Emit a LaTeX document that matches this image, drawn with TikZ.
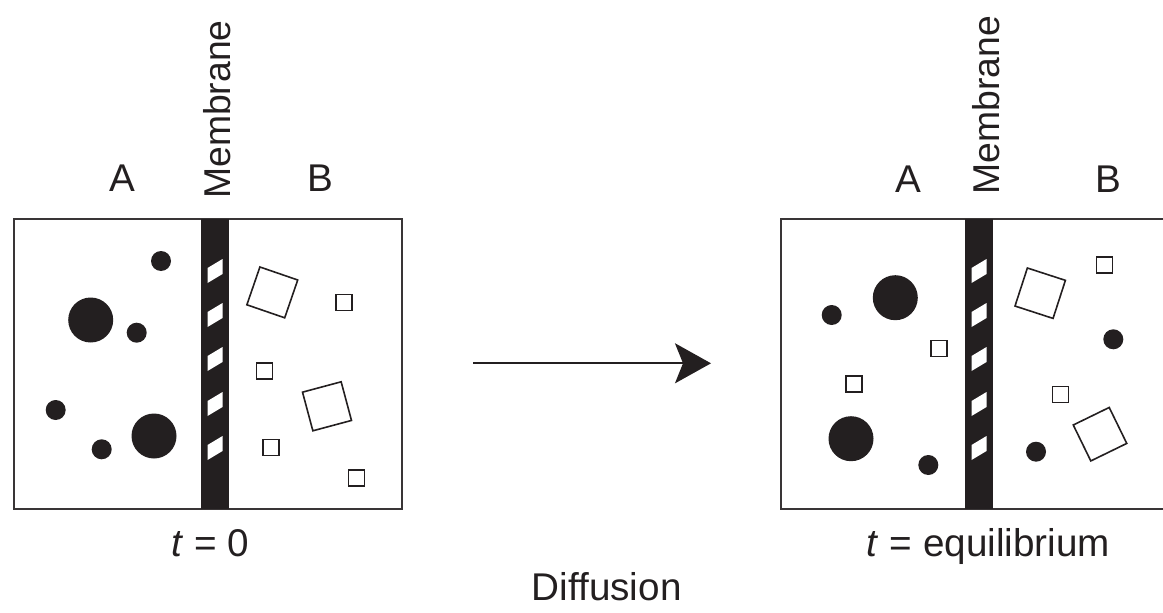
\documentclass[tikz,border=0pt]{standalone}
\usepackage{fontspec}
\setmainfont{Liberation Sans}
\usetikzlibrary{arrows.meta}
\definecolor{ink}{RGB}{35,31,32}
\begin{document}
\begin{tikzpicture}[x=0.75pt,y=-0.75pt,
  frame/.style={draw=ink!90, line width=1.5pt},
  wall/.style={fill=ink},
  slit/.style={fill=white},
  bigball/.style={circle, fill=ink, inner sep=0pt, minimum size=33.75pt},
  ball/.style={circle, fill=ink, inner sep=0pt, minimum size=15pt},
  bigcube/.style={rectangle, draw=ink, line width=1.2pt, inner sep=0pt, minimum size=30pt},
  cube/.style={rectangle, draw=ink, line width=1.2pt, inner sep=0pt, minimum size=12pt},
  lbl/.style={font=\fontsize{29}{35}\selectfont, text=ink, inner sep=0pt},
  vlbl/.style={font=\fontsize{28}{34}\selectfont, text=ink, inner sep=0pt, rotate=90, anchor=base west},
]
\useasboundingbox (0,0) rectangle (1163,613);

% ---------- left chamber, t = 0 ----------
\draw[frame] (13.5,218.5) rectangle (401.5,509);
\fill[wall] (201,218.5) rectangle (229,509);
\foreach \c in {271,315,359,404,448}
  \fill[slit] (207.5,\c-3) -- (222.5,\c-12) -- (222.5,\c+3) -- (207.5,\c+12) -- cycle;

\node[bigball] (la1) at (90.7,320) {};
\node[bigball] (la2) at (154,436) {};
\node[ball] (la3) at (161,261) {};
\node[ball] (la4) at (136.7,332.7) {};
\node[ball] (la5) at (55.7,410) {};
\node[ball] (la6) at (101.7,449.3) {};

\node[bigcube, rotate=-19] (lb1) at (272.3,292.4) {};
\node[bigcube, rotate=15] (lb2) at (327,406.3) {};
\node[cube] (lb3) at (343.7,302.3) {};
\node[cube] (lb4) at (264.5,370.7) {};
\node[cube] (lb5) at (270.8,447.5) {};
\node[cube] (lb6) at (356.3,478) {};

\node[lbl, anchor=base] (lA) at (122,191.7) {A};
\node[lbl, anchor=base] (lB) at (320,191.5) {B};
\node[vlbl] (lM) at (230,199) {Membrane};
\node[lbl, anchor=base] (lt) at (210,556.7) {\textit{t} = 0};

% ---------- right chamber, equilibrium ----------
\draw[frame] (1163,218.5) -- (781,218.5) -- (781,509) -- (1163,509);
\fill[wall] (964.5,218.5) rectangle (993,509);
\foreach \c in {271,315,359,404,448}
  \fill[slit] (971.5,\c-3) -- (986.5,\c-12) -- (986.5,\c+3) -- (971.5,\c+12) -- cycle;

\node[bigball] (ra1) at (895.3,297.7) {};
\node[bigball] (ra2) at (851,438.7) {};
\node[ball] (ra3) at (831.7,315) {};
\node[ball] (ra4) at (928.3,465) {};
\node[ball] (ra5) at (1113.3,339.3) {};
\node[ball] (ra6) at (1036,451.7) {};

\node[cube] (rb1) at (939.2,348.3) {};
\node[cube] (rb2) at (853.8,383.7) {};
\node[bigcube, rotate=-18] (rb3) at (1040.2,293.2) {};
\node[cube] (rb4) at (1104.5,264.7) {};
\node[cube] (rb5) at (1060.3,394.3) {};
\node[bigcube, rotate=26] (rb6) at (1100,434.2) {};

\node[lbl, anchor=base] (rA) at (908.3,192.7) {A};
\node[lbl, anchor=base] (rB) at (1108.3,192.7) {B};
\node[vlbl] (rM) at (999.5,194.5) {Membrane};
\node[lbl, anchor=base] (rt) at (988.5,556.7) {\textit{t} = equilibrium};

% ---------- process arrow ----------
\coordinate (a0) at (473,363.3);
\coordinate (a1) at (711,363.3);
\draw[line width=1.5pt, draw=ink, -{Stealth[length=27pt,width=30pt,inset=6pt]}] (a0) -- (a1);
\node[lbl, anchor=base] (diff) at (606.7,600) {Diffusion};
\end{tikzpicture}
\end{document}
